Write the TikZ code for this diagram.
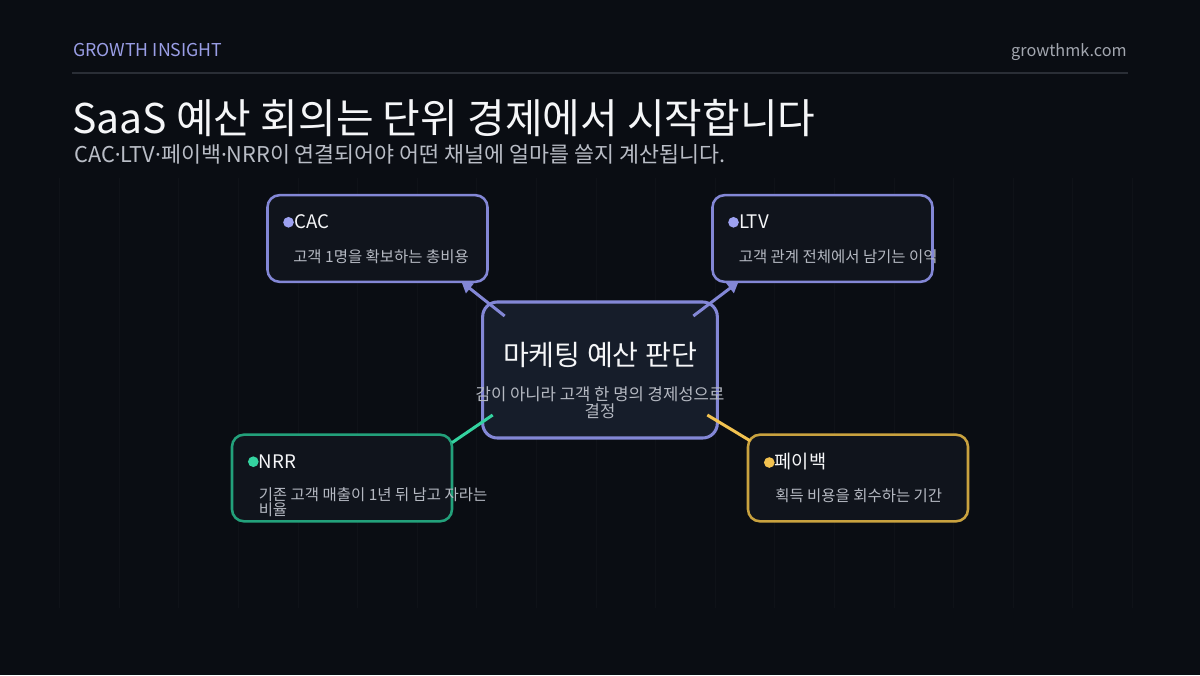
\documentclass[tikz,border=0pt]{standalone}
\usepackage{fontspec}
\setmainfont{Noto Sans CJK KR}
\newfontfamily\latinf{Noto Sans}
\usetikzlibrary{arrows.meta,calc}
\definecolor{bgc}{HTML}{0A0D13}
\definecolor{headc}{HTML}{9A9EE6}
\definecolor{sitec}{HTML}{A3A7B0}
\definecolor{rulec}{HTML}{2A2E36}
\definecolor{titlec}{HTML}{F5F6F8}
\definecolor{subc}{HTML}{B9BDC6}
\definecolor{boxfill}{HTML}{10141C}
\definecolor{cenfill}{HTML}{161D2A}
\definecolor{lavb}{HTML}{8387D6}
\definecolor{lavdot}{HTML}{9DA1F0}
\definecolor{grnb}{HTML}{23A17B}
\definecolor{grndot}{HTML}{34D3A0}
\definecolor{goldb}{HTML}{C9A23F}
\definecolor{golddot}{HTML}{F2C250}
\definecolor{descc}{HTML}{B5B9C2}
\definecolor{gridc}{HTML}{FFFFFF}
\newcommand{\md}{{\latinf ·}}
\tikzset{
  cardbox/.style={draw=#1, line width=1.9pt, fill=boxfill, rounded corners=9pt,
    minimum width=165pt, minimum height=65pt, inner sep=0pt, outer sep=0pt},
  cardtitle/.style={anchor=base west, inner sep=0pt, text=titlec, font=\fontsize{14}{16}\selectfont},
  carddesc/.style={anchor=base west, inner sep=0pt, text=descc, align=left, font=\fontsize{11.6}{11.25}\selectfont},
  carddot/.style={circle, fill=#1, minimum size=8pt, inner sep=0pt},
  link/.style={draw=#1, line width=2.25pt},
  tip/.style={-{Triangle[length=8pt,width=9pt]}}
}
\begin{document}
\begin{tikzpicture}[x=0.75pt,y=-0.75pt]
\fill[bgc] (0,0) rectangle (1200,675);
\useasboundingbox (0,0) rectangle (1200,675);
% faint grid
\foreach \i in {1,...,19} {
  \draw[gridc, opacity=0.025, line width=0.75pt] (\i*59.6,178) -- (\i*59.6,608);
}
% header
\node[anchor=base west, inner sep=0pt, text=headc, font=\fontsize{13.3}{15}\selectfont] (brand) at (73,56) {GROWTH INSIGHT};
\node[anchor=base east, inner sep=0pt, text=sitec, font=\fontsize{12.2}{15}\selectfont] (site) at (1127,56) {growthmk.com};
\draw[rulec, line width=1.5pt] (72,73) -- (1128,73);
\node[anchor=base west, inner sep=0pt, text=titlec, font=\fontsize{30.7}{34}\selectfont] (title) at (72,133) {SaaS 예산 회의는 단위 경제에서 시작합니다};
\node[anchor=base west, inner sep=0pt, text=subc, font=\fontsize{16.3}{18}\selectfont] (sub) at (74,162) {CAC\md LTV\md 페이백\md NRR이 연결되어야 어떤 채널에 얼마를 쓸지 계산됩니다.};
% boxes
\node[cardbox=lavb] (cac) at (377.5,238.5) {};
\node[cardbox=lavb] (ltv) at (822.5,238.5) {};
\node[cardbox=grnb] (nrr) at (342,478) {};
\node[cardbox=goldb] (pay) at (858,478) {};
\node[draw=lavb, line width=2.3pt, fill=cenfill, rounded corners=11pt, minimum width=176pt, minimum height=102pt, inner sep=0pt, outer sep=0pt] (cen) at (600,370) {};
% connectors
\draw[link=lavb, tip] ($(cen.north west)+(22,14)$) -- ($(cac.south east)+(-26,0)$);
\draw[link=lavb, tip] ($(cen.north east)+(-24,14)$) -- ($(ltv.south west)+(26,0)$);
\draw[link=grndot] ($(cen.south west)+(10,-23)$) -- ($(nrr.north east)+(0,8)$);
\draw[link=golddot] ($(cen.south east)+(-10,-23)$) -- ($(pay.north west)+(2,6)$);
% CAC
\node[carddot=lavdot] (cacdot) at (288.5,222.3) {};
\node[cardtitle] (cact) at (294,228) {CAC};
\node[carddesc] (cacd) at (293,262) {고객 1명을 확보하는 총비용};
% LTV
\node[carddot=lavdot] (ltvdot) at (733.5,222.3) {};
\node[cardtitle] (ltvt) at (739,228) {LTV};
\node[carddesc] (ltvd) at (738.5,262) {고객 관계 전체에서 남기는 이익};
% NRR
\node[carddot=grndot] (nrrdot) at (253.3,461.7) {};
\node[cardtitle] (nrrt) at (258.5,468) {NRR};
\node[carddesc] (nrrd) at (258.5,515) {기존 고객 매출이 1년 뒤 남고 자라는\\비율};
% payback
\node[carddot=golddot] (paydot) at (769.3,462.5) {};
\node[cardtitle] (payt) at (774.5,468) {페이백};
\node[carddesc] (payd) at (775,501) {획득 비용을 회수하는 기간};
% center text
\node[anchor=base, inner sep=0pt, text=titlec, font=\fontsize{21.1}{23}\selectfont] (cent) at (600,365) {마케팅 예산 판단};
\node[anchor=base, inner sep=0pt, text=descc, align=center, font=\fontsize{12.5}{11.25}\selectfont] (cend) at (600,417) {감이 아니라 고객 한 명의 경제성으로\\결정};
\end{tikzpicture}
\end{document}
